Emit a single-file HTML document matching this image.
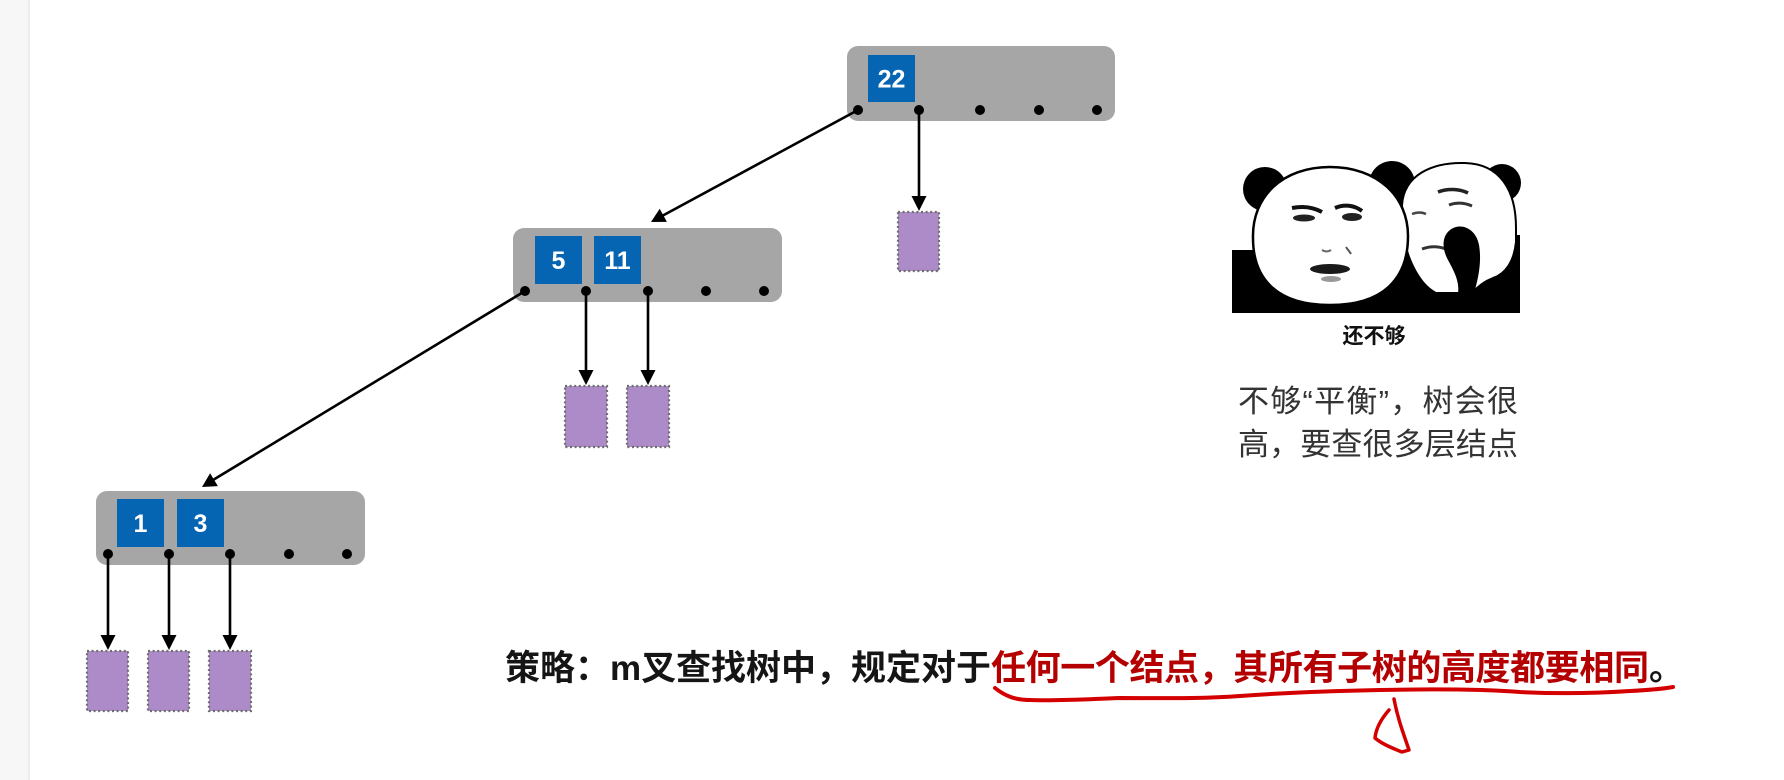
<!DOCTYPE html>
<html>
<head>
<meta charset="utf-8">
<style>
  html, body { margin:0; padding:0; background:#ffffff; }
  body { width:1784px; height:780px; overflow:hidden; }
  svg { display:block; }
  .k { font-family:"Liberation Sans", Arial, sans-serif; font-weight:700; font-size:25px; fill:#fff; }
  .cjk { font-family:"Liberation Sans","Noto Sans CJK SC","WenQuanYi Zen Hei",sans-serif; }
</style>
</head>
<body>
<svg width="1784" height="780" viewBox="0 0 1784 780" xmlns="http://www.w3.org/2000/svg">
  <!-- page left band -->
  <rect x="0" y="0" width="28" height="780" fill="#f7f7f7"/>
  <rect x="28" y="0" width="2" height="780" fill="#ececec"/>

  <!-- ===== Top node ===== -->
  <rect x="847" y="46" width="268" height="75" rx="11" fill="#a6a6a6"/>
  <rect x="868" y="55" width="47" height="47" fill="#0565b3"/>
  <text x="891.5" y="87.5" text-anchor="middle" class="k">22</text>
  <g fill="#000">
    <circle cx="858" cy="110" r="5"/>
    <circle cx="919" cy="110" r="5"/>
    <circle cx="980" cy="110" r="5"/>
    <circle cx="1039" cy="110" r="5"/>
    <circle cx="1097" cy="110" r="5"/>
  </g>

  <!-- ===== Middle node ===== -->
  <rect x="513" y="228" width="269" height="74" rx="11" fill="#a6a6a6"/>
  <rect x="535" y="236" width="47" height="48" fill="#0565b3"/>
  <rect x="594" y="236" width="47" height="48" fill="#0565b3"/>
  <text x="558.5" y="269" text-anchor="middle" class="k">5</text>
  <text x="617.5" y="269" text-anchor="middle" class="k">11</text>
  <g fill="#000">
    <circle cx="525" cy="291" r="5"/>
    <circle cx="586" cy="291" r="5"/>
    <circle cx="648" cy="291" r="5"/>
    <circle cx="706" cy="291" r="5"/>
    <circle cx="764" cy="291" r="5"/>
  </g>

  <!-- ===== Bottom node ===== -->
  <rect x="96" y="491" width="269" height="74" rx="11" fill="#a6a6a6"/>
  <rect x="117" y="499" width="47" height="48" fill="#0565b3"/>
  <rect x="177" y="499" width="47" height="48" fill="#0565b3"/>
  <text x="140.5" y="532" text-anchor="middle" class="k">1</text>
  <text x="200.5" y="532" text-anchor="middle" class="k">3</text>
  <g fill="#000">
    <circle cx="108" cy="554" r="5"/>
    <circle cx="169" cy="554" r="5"/>
    <circle cx="230" cy="554" r="5"/>
    <circle cx="289" cy="554" r="5"/>
    <circle cx="347" cy="554" r="5"/>
  </g>

  <!-- ===== Arrows ===== -->
  <g stroke="#000" stroke-width="2.6" fill="none">
    <line x1="858" y1="110" x2="662" y2="216"/>
    <line x1="525" y1="291" x2="213" y2="480"/>
    <line x1="919" y1="110" x2="919" y2="199"/>
    <line x1="586" y1="291" x2="586" y2="373"/>
    <line x1="648" y1="291" x2="648" y2="373"/>
    <line x1="108" y1="554" x2="108" y2="638"/>
    <line x1="169" y1="554" x2="169" y2="638"/>
    <line x1="230" y1="554" x2="230" y2="638"/>
  </g>
  <g fill="#000">
    <polygon points="651,222 666.9,221.9 659.7,208.7"/>
    <polygon points="202,487 217.9,486.1 210.1,473.3"/>
    <polygon points="919,211 911.5,196 926.5,196"/>
    <polygon points="586,385 578.5,370 593.5,370"/>
    <polygon points="648,385 640.5,370 655.5,370"/>
    <polygon points="108,650 100.5,635 115.5,635"/>
    <polygon points="169,650 161.5,635 176.5,635"/>
    <polygon points="230,650 222.5,635 237.5,635"/>
  </g>

  <!-- ===== Purple leaf boxes ===== -->
  <g fill="#ad8bc8" stroke="#6e6e6e" stroke-width="2.2" stroke-dasharray="2 2.6">
    <rect x="898" y="212" width="41" height="59"/>
    <rect x="565" y="386" width="42" height="61"/>
    <rect x="627" y="386" width="42" height="61"/>
    <rect x="87" y="651" width="41" height="60"/>
    <rect x="148" y="651" width="41" height="60"/>
    <rect x="209" y="651" width="42" height="60"/>
  </g>

  <!-- ===== Panda meme ===== -->
  <g>
    <!-- ears -->
    <circle cx="1265" cy="189" r="22" fill="#000"/>
    <circle cx="1392" cy="184" r="23" fill="#000"/>
    <circle cx="1502" cy="183" r="19" fill="#000"/>
    <!-- black body band -->
    <rect x="1232" y="250" width="288" height="63" fill="#000"/>
    <rect x="1500" y="235" width="20" height="78" fill="#000"/>
    <!-- right head -->
    <path d="M1402,205 C1404,175 1432,162 1465,163 C1500,164 1516,190 1516,228 L1516,242 C1514,262 1505,274 1493,278 C1485,281 1478,286 1472,293 L1436,293 C1420,285 1409,262 1404,240 Z"
          fill="#fff" stroke="#000" stroke-width="2"/>
    <!-- right face features -->
    <path d="M1438,192 C1448,188 1460,189 1468,193" stroke="#222" stroke-width="3.5" fill="none"/>
    <path d="M1449,205 C1457,202 1465,203 1472,206" stroke="#333" stroke-width="3" fill="none"/>
    <path d="M1412,214 C1417,212 1422,212 1426,214" stroke="#444" stroke-width="2.5" fill="none"/>
    <path d="M1422,249 C1430,246 1438,246 1446,249" stroke="#333" stroke-width="3" fill="none"/>
    <path d="M1450,230 C1460,222 1476,228 1479,245 C1482,262 1478,280 1474,293 L1458,293 C1460,280 1452,268 1447,258 C1442,248 1442,236 1450,230 Z" fill="#000"/>
    <!-- left head -->
    <path d="M1253,238 C1252,196 1283,167 1330,167 C1377,167 1408,196 1408,236 C1408,280 1382,305 1330,305 C1278,305 1253,280 1253,238 Z"
          fill="#fff" stroke="#000" stroke-width="2.5"/>
    <!-- left face features -->
    <path d="M1292,208 C1302,206 1313,207 1322,212" stroke="#111" stroke-width="4" fill="none"/>
    <path d="M1335,208 C1344,204 1354,205 1362,211" stroke="#111" stroke-width="4" fill="none"/>
    <ellipse cx="1304" cy="218" rx="11" ry="3.5" fill="#222"/>
    <ellipse cx="1352" cy="217" rx="10" ry="4" fill="#222"/>
    <path d="M1322,250 C1325,252 1328,252 1331,250" stroke="#666" stroke-width="2" fill="none"/>
    <path d="M1346,247 C1348,250 1350,252 1351,254" stroke="#555" stroke-width="2" fill="none"/>
    <ellipse cx="1330" cy="269" rx="20" ry="5" fill="#1a1a1a"/>
    <ellipse cx="1331" cy="279" rx="10" ry="3" fill="#999"/>
  </g>
  <text x="1374" y="343" text-anchor="middle" class="cjk" font-size="21" font-weight="700" fill="#111">还不够</text>

  <!-- right paragraph -->
  <text x="1238" y="412" class="cjk" font-size="31" fill="#333" textLength="280" lengthAdjust="spacing">不够“平衡”，树会很</text>
  <text x="1238" y="455" class="cjk" font-size="31" fill="#333" textLength="280" lengthAdjust="spacing">高，要查很多层结点</text>

  <!-- bottom strategy text -->
  <text x="505" y="680" class="cjk" font-size="35" font-weight="700" fill="#151515" textLength="486" lengthAdjust="spacing">策略：m叉查找树中，规定对于</text>
  <text x="991" y="680" class="cjk" font-size="35" font-weight="700" fill="#b40000" textLength="658" lengthAdjust="spacing">任何一个结点，其所有子树的高度都要相同</text>
  <text x="1649" y="680" class="cjk" font-size="35" font-weight="700" fill="#151515">。</text>

  <!-- hand-drawn red underline + mark -->
  <path d="M995,688 C1005,696 1015,700 1030,700 C1060,701 1090,699 1120,698 C1160,698 1200,699 1240,696 C1280,693 1330,691 1380,690 C1430,689 1480,689 1520,692 C1560,694 1600,693 1630,691 C1650,690 1662,689 1673,687"
        stroke="#d40000" stroke-width="4" fill="none" stroke-linecap="round"/>
  <path d="M1394,699 C1398,720 1404,735 1409,750 L1402,752 C1392,748 1382,744 1375,738 C1376,728 1382,718 1389,710"
        stroke="#d40000" stroke-width="3.5" fill="none" stroke-linecap="round" stroke-linejoin="round"/>
</svg>
</body>
</html>
